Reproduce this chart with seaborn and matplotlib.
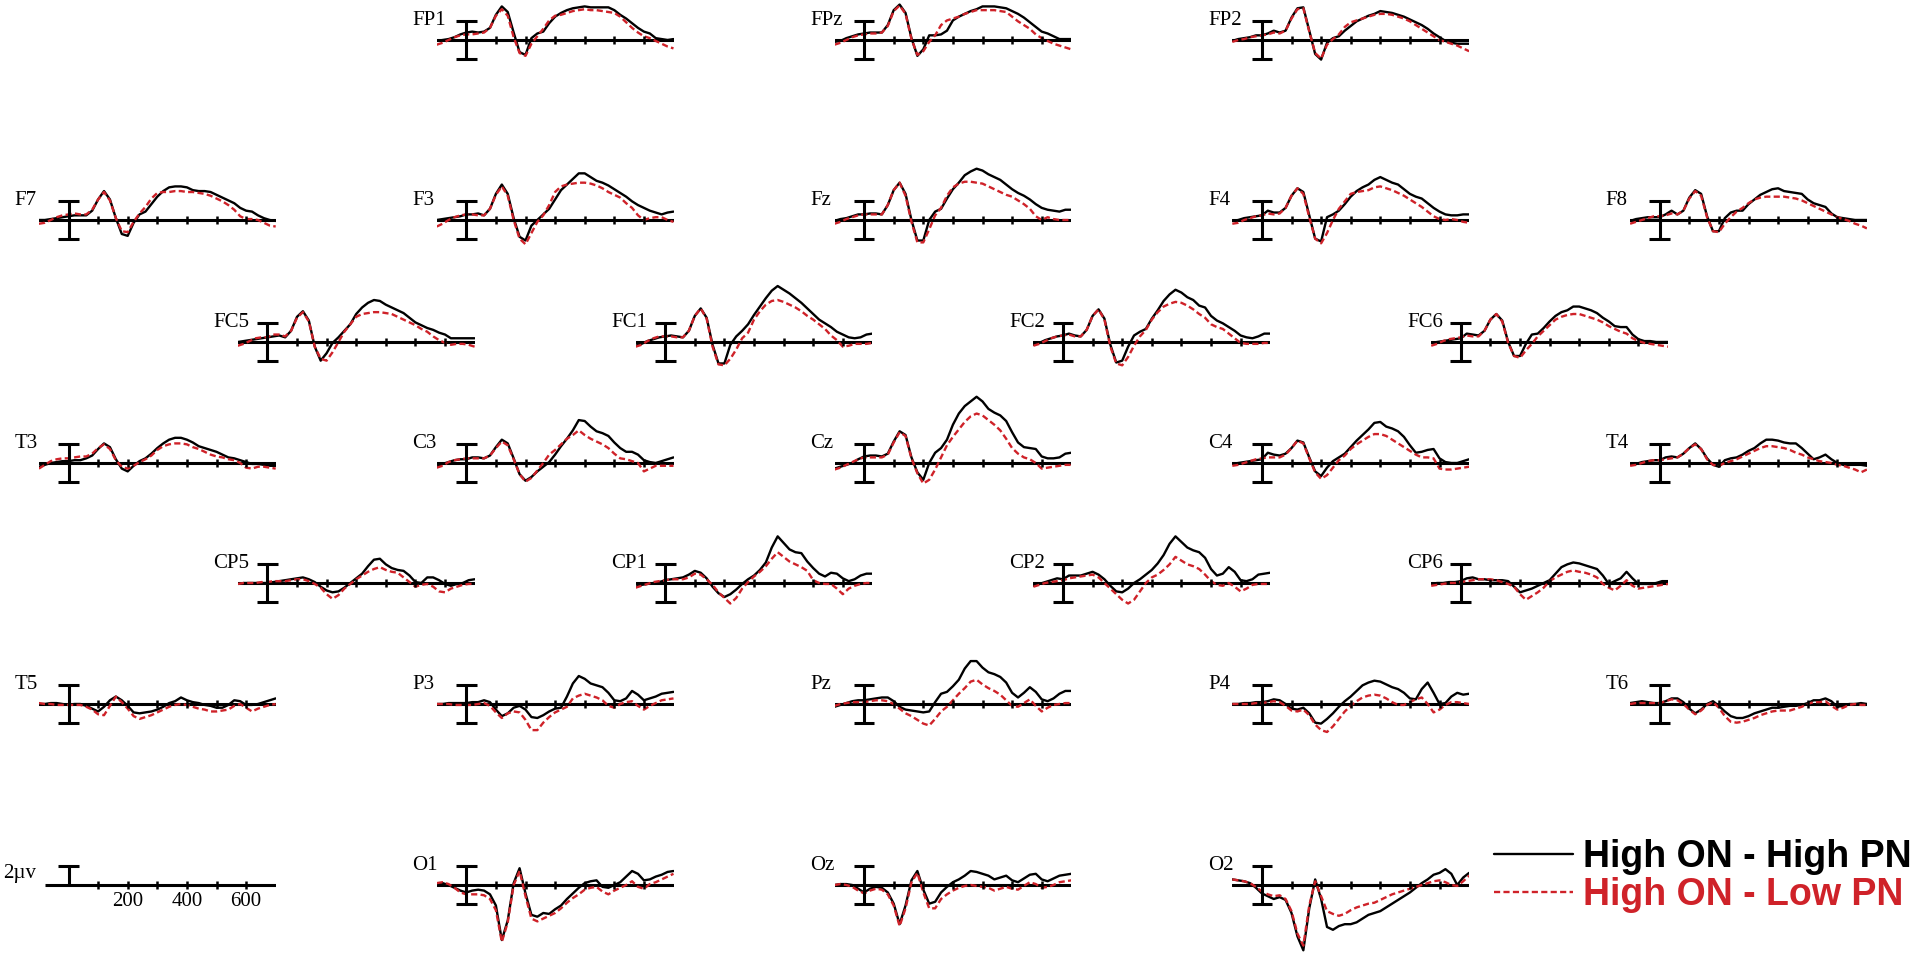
import numpy as np
import pandas as pd
import matplotlib
matplotlib.use("Agg")
import matplotlib.pyplot as plt
import seaborn as sns

# %% data: grand-average ERPs (uV), sampled every 20 ms from -100 to 700 ms
times = list(range(-100, 701, 20))
conditions = ["High ON - High PN", "High ON - Low PN"]
tick_times = [100, 200, 300, 400, 500, 600]
scale_labels = ["200", "400", "600"]

FP1_high = [-0.1, 0.0, 0.1, 0.3, 0.6, 0.8, 0.9, 0.8, 0.9, 1.3,
            2.7, 3.6, 3.0, 0.8, -1.3, -1.6, 0.2, 0.7, 0.9, 1.8,
            2.5, 2.9, 3.2, 3.4, 3.5, 3.6, 3.5, 3.5, 3.5, 3.5,
            3.2, 2.7, 2.3, 1.8, 1.3, 0.9, 0.7, 0.2, 0.1, 0.0, 0.1]
FP1_low = [-0.5, -0.3, 0.0, 0.3, 0.5, 0.6, 0.6, 0.7, 0.8, 1.3,
           2.6, 3.3, 2.6, 0.3, -1.4, -1.7, -0.4, 0.4, 1.2, 2.1,
           2.6, 2.7, 2.9, 3.1, 3.2, 3.3, 3.2, 3.2, 3.1, 3.0,
           2.9, 2.5, 1.9, 1.3, 0.8, 0.4, 0.2, -0.1, -0.4, -0.7, -0.9]
FPz_high = [-0.2, -0.1, 0.2, 0.4, 0.6, 0.7, 0.8, 0.8, 0.8, 1.6,
            3.2, 3.8, 2.9, 0.2, -1.7, -1.0, 0.5, 0.5, 0.6, 1.0,
            2.1, 2.5, 2.8, 3.1, 3.3, 3.6, 3.6, 3.6, 3.5, 3.4,
            3.1, 2.8, 2.4, 1.9, 1.4, 0.9, 0.7, 0.4, 0.1, 0.1, 0.1]
FPz_low = [-0.5, -0.3, 0.0, 0.3, 0.5, 0.6, 0.7, 0.7, 0.8, 1.5,
           3.1, 3.7, 2.8, 0.1, -1.6, -1.2, -0.2, 0.5, 1.6, 2.1,
           2.3, 2.5, 2.8, 3.0, 3.2, 3.2, 3.2, 3.2, 3.1, 3.0,
           2.5, 2.0, 1.6, 1.2, 0.6, 0.2, -0.1, -0.4, -0.6, -0.8, -1.0]
FP2_high = [-0.1, 0.1, 0.2, 0.3, 0.5, 0.5, 0.7, 1.0, 0.8, 1.0,
            2.4, 3.4, 3.5, 1.0, -1.5, -2.1, -0.3, 0.2, 0.4, 1.0,
            1.5, 2.0, 2.3, 2.6, 2.8, 3.1, 3.0, 2.9, 2.7, 2.5,
            2.2, 1.9, 1.6, 1.2, 0.7, 0.3, -0.1, -0.3, -0.4, -0.4, -0.4]
FP2_low = [-0.2, 0.0, 0.1, 0.3, 0.4, 0.5, 0.6, 0.8, 0.7, 1.0,
           2.3, 3.3, 3.4, 0.9, -1.4, -2.0, -0.5, 0.1, 0.6, 1.4,
           1.9, 2.1, 2.3, 2.5, 2.7, 2.8, 2.8, 2.7, 2.5, 2.3,
           2.0, 1.6, 1.2, 0.8, 0.4, 0.0, -0.2, -0.4, -0.6, -0.9, -1.2]

F7_high = [0.0, 0.0, 0.1, 0.2, 0.3, 0.4, 0.5, 0.5, 0.5, 1.0,
           2.2, 3.1, 2.2, 0.2, -1.5, -1.7, -0.3, 0.6, 0.9, 1.7,
           2.5, 3.1, 3.5, 3.6, 3.6, 3.5, 3.2, 3.1, 3.1, 3.0,
           2.7, 2.4, 2.1, 1.8, 1.3, 1.0, 0.9, 0.5, 0.2, 0.0, -0.1]
F7_low = [-0.4, -0.3, 0.0, 0.3, 0.5, 0.6, 0.7, 0.6, 0.6, 1.1,
          2.2, 3.0, 2.1, 0.2, -1.2, -1.3, -0.2, 0.7, 1.4, 2.3,
          2.9, 3.0, 3.0, 3.1, 3.1, 3.0, 3.0, 2.9, 2.8, 2.6,
          2.3, 2.0, 1.6, 1.1, 0.4, 0.1, 0.1, 0.0, -0.3, -0.6, -0.7]
F3_high = [0.0, 0.1, 0.2, 0.3, 0.4, 0.6, 0.6, 0.7, 0.5, 1.2,
           2.8, 3.8, 2.8, 0.2, -1.8, -2.2, -0.6, 0.0, 0.6, 1.2,
           2.2, 3.2, 3.8, 4.4, 5.0, 5.0, 4.6, 4.2, 4.0, 3.7,
           3.3, 2.9, 2.5, 2.0, 1.6, 1.3, 1.0, 0.8, 0.6, 0.8, 0.9]
F3_low = [-0.7, -0.4, 0.0, 0.3, 0.5, 0.6, 0.6, 0.5, 0.5, 1.2,
          2.7, 3.6, 2.6, 0.0, -2.0, -2.6, -1.4, -0.2, 0.5, 1.6,
          3.0, 3.6, 3.8, 3.9, 4.0, 4.0, 3.9, 3.7, 3.4, 3.0,
          2.7, 2.4, 1.8, 1.3, 0.5, 0.0, 0.2, 0.3, 0.3, 0.0, -0.2]
Fz_high = [-0.1, 0.1, 0.2, 0.4, 0.6, 0.6, 0.7, 0.7, 0.6, 1.6,
           3.2, 4.0, 2.8, 0.0, -2.2, -2.2, 0.0, 0.9, 1.2, 2.3,
           3.3, 4.0, 4.8, 5.2, 5.5, 5.3, 4.9, 4.6, 4.3, 3.8,
           3.3, 2.9, 2.6, 2.2, 1.7, 1.3, 1.1, 1.0, 0.9, 1.1, 1.1]
Fz_low = [-0.4, -0.2, 0.1, 0.3, 0.5, 0.6, 0.6, 0.6, 0.6, 1.6,
          3.2, 4.0, 2.6, -0.2, -2.4, -2.4, -1.0, 0.5, 1.3, 2.6,
          3.5, 3.9, 4.1, 4.1, 4.0, 3.9, 3.6, 3.3, 3.0, 2.7,
          2.5, 2.1, 1.7, 1.2, 0.4, 0.0, 0.3, 0.1, 0.0, 0.0, 0.0]
F4_high = [-0.1, 0.0, 0.2, 0.3, 0.4, 0.5, 1.0, 0.8, 0.8, 1.3,
           2.6, 3.4, 3.0, 0.5, -2.0, -2.3, 0.3, 0.6, 1.0, 1.7,
           2.5, 3.1, 3.5, 3.8, 4.3, 4.6, 4.3, 4.0, 3.8, 3.3,
           2.8, 2.5, 2.3, 1.8, 1.3, 0.9, 0.6, 0.5, 0.5, 0.6, 0.6]
F4_low = [-0.4, -0.3, 0.0, 0.2, 0.4, 0.5, 0.7, 0.6, 0.7, 1.3,
          2.6, 3.4, 2.8, 0.3, -2.0, -2.5, -1.4, 0.0, 1.2, 2.0,
          2.8, 3.0, 3.1, 3.2, 3.5, 3.6, 3.4, 3.2, 2.9, 2.6,
          2.2, 1.8, 1.4, 0.9, 0.4, 0.1, 0.0, 0.1, 0.0, -0.2, -0.3]
F8_high = [-0.1, 0.1, 0.2, 0.3, 0.3, 0.3, 0.6, 1.0, 0.6, 1.0,
           2.4, 3.2, 2.8, 0.4, -1.2, -1.2, 0.2, 0.8, 1.0, 1.0,
           1.7, 2.2, 2.7, 3.0, 3.3, 3.4, 3.1, 3.0, 2.9, 2.8,
           2.2, 1.8, 1.6, 1.4, 0.7, 0.3, 0.2, 0.1, 0.0, 0.0, 0.0]
F8_low = [-0.4, -0.2, 0.0, 0.2, 0.4, 0.4, 0.5, 0.7, 0.6, 1.0,
          2.3, 3.1, 2.6, 0.3, -1.2, -1.3, -0.4, 0.3, 0.9, 1.3,
          1.8, 2.2, 2.4, 2.5, 2.5, 2.5, 2.5, 2.4, 2.3, 2.1,
          1.8, 1.5, 1.2, 0.9, 0.6, 0.3, 0.1, -0.1, -0.4, -0.6, -0.9]

FC5_high = [0.0, 0.1, 0.2, 0.3, 0.4, 0.5, 0.6, 0.7, 0.5, 1.2,
            2.7, 3.3, 2.3, -0.5, -2.0, -1.2, -0.1, 0.5, 1.2, 1.9,
            3.0, 3.7, 4.2, 4.5, 4.4, 4.0, 3.7, 3.4, 3.1, 2.6,
            2.1, 1.8, 1.5, 1.3, 1.0, 0.8, 0.4, 0.4, 0.4, 0.4, 0.4]
FC5_low = [-0.4, -0.2, 0.1, 0.4, 0.5, 0.5, 0.8, 0.8, 0.6, 1.2,
           2.6, 3.2, 2.2, -0.5, -1.8, -2.0, -1.1, 0.0, 1.1, 1.9,
           2.7, 3.0, 3.1, 3.2, 3.2, 3.1, 3.0, 2.7, 2.4, 2.1,
           1.8, 1.4, 1.1, 0.6, 0.2, -0.1, -0.3, -0.2, -0.2, -0.3, -0.5]
FC1_high = [-0.4, -0.2, 0.1, 0.3, 0.5, 0.6, 0.7, 0.6, 0.5, 1.2,
            2.8, 3.6, 2.6, -0.3, -2.3, -2.3, -0.3, 0.6, 1.2, 1.9,
            2.9, 3.8, 4.7, 5.5, 6.0, 5.6, 5.2, 4.7, 4.2, 3.6,
            3.0, 2.4, 2.0, 1.6, 1.1, 0.8, 0.5, 0.4, 0.5, 0.8, 0.9]
FC1_low = [-0.5, -0.3, 0.1, 0.4, 0.6, 0.6, 0.6, 0.5, 0.5, 1.2,
           2.8, 3.6, 2.5, -0.5, -2.4, -2.5, -1.8, -0.8, 0.4, 1.0,
           2.4, 3.3, 4.0, 4.4, 4.5, 4.3, 4.0, 3.7, 3.3, 2.8,
           2.4, 1.9, 1.4, 0.7, 0.2, -0.5, -0.4, -0.2, -0.2, -0.2, -0.1]
FC2_high = [-0.3, -0.1, 0.2, 0.4, 0.6, 0.7, 0.9, 0.7, 0.6, 1.3,
            2.8, 3.5, 2.5, -0.3, -2.2, -2.0, -0.5, 0.7, 1.1, 1.4,
            2.5, 3.4, 4.4, 5.1, 5.6, 5.3, 4.8, 4.5, 3.9, 3.7,
            2.8, 2.3, 2.0, 1.6, 1.2, 0.7, 0.5, 0.4, 0.6, 0.9, 0.9]
FC2_low = [-0.4, -0.2, 0.1, 0.4, 0.6, 0.7, 0.8, 0.6, 0.6, 1.3,
           2.8, 3.5, 2.4, -0.5, -2.3, -2.5, -1.6, -0.4, 0.6, 1.3,
           2.4, 3.2, 3.8, 4.1, 4.3, 4.2, 3.9, 3.5, 3.0, 2.6,
           1.9, 1.6, 1.4, 0.9, 0.4, -0.1, -0.2, -0.2, -0.2, -0.1, -0.1]
FC6_high = [-0.1, 0.0, 0.1, 0.2, 0.3, 0.4, 0.9, 0.8, 0.7, 1.2,
            2.4, 3.0, 2.3, 0.0, -1.5, -1.5, -0.2, 0.8, 0.9, 1.5,
            2.2, 2.8, 3.2, 3.4, 3.8, 3.8, 3.6, 3.4, 3.1, 2.6,
            2.2, 1.7, 1.6, 1.6, 0.8, 0.3, 0.1, 0.1, 0.0, 0.0, 0.0]
FC6_low = [-0.4, -0.2, 0.1, 0.3, 0.4, 0.5, 0.7, 0.6, 0.6, 1.2,
           2.4, 3.0, 2.2, -0.1, -1.5, -1.7, -0.9, -0.2, 0.6, 1.2,
           1.8, 2.4, 2.7, 2.9, 3.0, 3.0, 2.8, 2.6, 2.4, 2.1,
           1.7, 1.4, 1.1, 0.9, 0.4, 0.1, -0.1, -0.2, -0.3, -0.4, -0.5]

T3_high = [-0.4, -0.2, 0.0, 0.1, 0.2, 0.2, 0.3, 0.3, 0.5, 0.8,
           1.5, 2.1, 1.7, 0.4, -0.6, -0.9, -0.3, 0.2, 0.5, 1.0,
           1.6, 2.1, 2.5, 2.7, 2.7, 2.5, 2.2, 1.8, 1.6, 1.4,
           1.2, 0.9, 0.6, 0.5, 0.3, 0.1, -0.1, -0.1, -0.2, -0.3, -0.3]
T3_low = [-0.6, -0.2, 0.2, 0.4, 0.5, 0.5, 0.6, 0.7, 0.7, 1.0,
          1.6, 2.0, 1.5, 0.3, -0.4, -0.6, -0.3, 0.1, 0.4, 0.8,
          1.4, 1.8, 2.0, 2.1, 2.1, 2.0, 1.7, 1.5, 1.2, 0.9,
          0.7, 0.6, 0.4, 0.3, 0.0, -0.5, -0.6, -0.4, -0.4, -0.5, -0.6]
C3_high = [-0.4, -0.1, 0.1, 0.3, 0.4, 0.4, 0.6, 0.6, 0.5, 0.8,
           1.7, 2.5, 2.1, 0.5, -1.2, -1.9, -1.5, -0.9, -0.4, 0.1,
           0.9, 1.8, 2.6, 3.5, 4.6, 4.5, 3.9, 3.4, 3.2, 2.9,
           2.2, 1.6, 1.2, 1.2, 0.9, 0.3, 0.1, 0.0, 0.2, 0.4, 0.6]
C3_low = [-0.5, -0.3, 0.1, 0.3, 0.4, 0.5, 0.5, 0.5, 0.5, 0.8,
          1.6, 2.3, 1.9, 0.4, -1.2, -2.0, -1.6, -0.8, 0.0, 0.9,
          1.4, 2.0, 2.6, 3.0, 3.5, 3.0, 2.6, 2.3, 2.0, 1.6,
          1.0, 0.5, 0.4, 0.2, 0.0, -0.9, -0.6, -0.3, -0.3, -0.3, -0.3]
Cz_high = [-0.6, -0.4, -0.2, 0.0, 0.4, 0.7, 0.8, 0.8, 0.7, 1.0,
           2.3, 3.4, 3.0, 0.6, -1.0, -1.8, 0.0, 1.1, 1.6, 2.5,
           4.1, 5.3, 6.1, 6.6, 7.1, 6.6, 5.8, 5.4, 5.1, 4.5,
           3.3, 2.2, 1.7, 1.6, 1.5, 0.7, 0.5, 0.5, 0.6, 1.0, 1.1]
Cz_low = [-0.7, -0.5, -0.2, 0.1, 0.4, 0.6, 0.6, 0.6, 0.6, 0.9,
          2.2, 3.3, 2.9, 0.5, -1.1, -2.2, -1.8, -0.7, 0.6, 1.9,
          2.8, 3.6, 4.4, 5.0, 5.3, 5.1, 4.6, 4.1, 3.5, 2.6,
          1.6, 1.0, 0.6, 0.4, 0.0, -0.6, -0.5, -0.4, -0.3, -0.2, -0.2]
C4_high = [-0.1, 0.0, 0.1, 0.2, 0.3, 0.4, 1.1, 0.9, 0.8, 1.0,
           1.6, 2.4, 2.2, 0.6, -0.9, -1.4, -0.5, 0.2, 0.6, 1.0,
           1.7, 2.4, 3.0, 3.6, 4.3, 4.4, 3.9, 3.7, 3.4, 2.8,
           1.9, 1.1, 1.2, 1.4, 1.5, 0.5, 0.1, 0.0, 0.0, 0.2, 0.4]
C4_low = [-0.3, -0.2, 0.0, 0.2, 0.4, 0.5, 0.6, 0.6, 0.6, 0.9,
          1.6, 2.4, 2.1, 0.5, -1.0, -1.7, -1.3, -0.5, 0.3, 0.8,
          1.5, 2.0, 2.4, 2.8, 3.1, 3.1, 2.9, 2.5, 2.1, 1.7,
          1.3, 0.9, 0.6, 0.6, 0.5, -0.6, -0.7, -0.7, -0.6, -0.5, -0.4]
T4_high = [-0.2, -0.1, 0.1, 0.2, 0.3, 0.3, 0.6, 0.7, 0.6, 1.0,
           1.6, 2.1, 1.5, 0.5, -0.2, -0.4, 0.3, 0.5, 0.6, 0.9,
           1.3, 1.6, 2.1, 2.5, 2.5, 2.4, 2.2, 2.1, 2.1, 1.6,
           1.0, 0.4, 0.6, 0.9, 0.4, 0.0, -0.2, -0.2, -0.2, -0.2, -0.3]
T4_low = [-0.3, -0.2, 0.0, 0.2, 0.3, 0.3, 0.4, 0.5, 0.6, 1.0,
          1.6, 2.0, 1.5, 0.4, -0.2, -0.3, 0.0, 0.2, 0.4, 0.7,
          1.0, 1.3, 1.6, 1.8, 1.8, 1.7, 1.6, 1.4, 1.1, 0.9,
          0.6, 0.4, 0.2, 0.1, 0.0, -0.2, -0.3, -0.5, -0.7, -1.0, -0.7]

CP5_high = [-0.1, 0.0, 0.0, 0.0, 0.0, 0.0, 0.1, 0.2, 0.3, 0.4,
            0.5, 0.6, 0.4, 0.1, -0.4, -0.8, -1.0, -0.9, -0.5, 0.0,
            0.5, 1.0, 1.8, 2.5, 2.6, 2.0, 1.6, 1.4, 1.3, 0.8,
            0.1, 0.0, 0.6, 0.6, 0.3, -0.1, -0.3, -0.1, 0.0, 0.3, 0.4]
CP5_low = [-0.1, 0.0, 0.0, 0.0, 0.1, 0.1, 0.2, 0.2, 0.2, 0.3,
           0.4, 0.4, 0.2, -0.1, -0.5, -1.2, -1.7, -1.3, -0.6, -0.1,
           0.4, 0.8, 1.2, 1.5, 1.7, 1.4, 1.2, 1.1, 0.6, 0.1,
           -0.4, -0.2, -0.1, -0.4, -0.9, -1.0, -0.6, -0.4, -0.2, -0.1, -0.1]
CP1_high = [-0.4, -0.2, -0.1, 0.0, 0.1, 0.3, 0.4, 0.5, 0.6, 0.9,
            1.3, 1.1, 0.5, -0.4, -1.1, -1.5, -1.2, -0.7, -0.1, 0.4,
            0.8, 1.4, 2.2, 3.8, 5.0, 4.3, 3.6, 3.3, 3.2, 2.3,
            1.6, 1.0, 0.7, 1.1, 1.0, 0.5, 0.2, 0.4, 0.8, 1.0, 1.0]
CP1_low = [-0.5, -0.3, -0.1, 0.1, 0.2, 0.3, 0.4, 0.4, 0.4, 0.6,
           1.0, 0.9, 0.4, -0.2, -1.0, -1.6, -2.2, -1.6, -0.6, 0.1,
           0.7, 1.2, 1.8, 2.6, 3.3, 2.8, 2.3, 2.0, 1.7, 1.3,
           0.3, 0.0, -0.1, -0.1, -0.6, -1.2, -0.6, -0.3, -0.1, 0.0, 0.0]
CP2_high = [-0.3, -0.1, 0.1, 0.3, 0.5, 0.4, 0.8, 0.8, 0.8, 1.0,
            1.2, 0.9, 0.4, -0.3, -0.9, -1.0, -0.6, 0.0, 0.4, 0.9,
            1.4, 2.1, 3.0, 4.2, 5.0, 4.4, 3.8, 3.5, 3.3, 2.7,
            1.5, 0.8, 1.0, 1.7, 1.2, 0.3, 0.2, 0.4, 0.9, 1.0, 1.1]
CP2_low = [-0.4, -0.2, 0.0, 0.1, 0.2, 0.3, 0.5, 0.6, 0.7, 0.8,
           0.9, 0.6, 0.0, -0.6, -1.2, -1.8, -2.2, -1.8, -0.9, 0.0,
           0.6, 0.9, 1.4, 2.0, 2.8, 2.4, 2.0, 1.8, 1.5, 0.9,
           0.2, -0.2, -0.3, 0.0, -0.4, -0.9, -0.6, -0.2, -0.1, -0.1, -0.1]
CP6_high = [-0.1, 0.0, 0.0, 0.1, 0.1, 0.2, 0.5, 0.6, 0.4, 0.4,
            0.3, 0.3, 0.3, 0.2, -0.4, -1.0, -0.8, -0.6, -0.3, 0.0,
            0.3, 1.0, 1.7, 2.0, 2.2, 2.1, 1.9, 1.7, 1.5, 0.8,
            -0.1, 0.2, 0.5, 1.2, 0.5, -0.1, -0.1, -0.1, 0.0, 0.2, 0.2]
CP6_low = [-0.3, -0.2, -0.1, 0.0, 0.0, 0.1, 0.2, 0.3, 0.4, 0.4,
           0.4, 0.3, 0.1, -0.1, -0.4, -1.2, -1.8, -1.4, -1.0, -0.5,
           0.2, 0.6, 0.9, 1.2, 1.35, 1.2, 1.1, 0.9, 0.6, -0.1,
           -0.5, -0.8, -0.3, 0.3, -0.3, -0.6, -0.5, -0.4, -0.3, -0.2, -0.1]

T5_high = [0.0, 0.0, 0.1, 0.1, 0.0, -0.1, 0.0, 0.0, -0.2, -0.5,
           -0.8, -0.3, 0.4, 0.8, 0.4, -0.2, -0.9, -1.0, -0.9, -0.8,
           -0.6, -0.3, 0.1, 0.3, 0.7, 0.4, 0.2, 0.1, -0.1, -0.2,
           -0.4, -0.4, -0.1, 0.4, 0.3, -0.1, -0.1, 0.0, 0.2, 0.4, 0.6]
T5_low = [0.1, 0.0, 0.0, -0.1, -0.1, -0.1, -0.1, -0.1, -0.3, -0.6,
          -1.1, -1.2, -0.2, 0.8, 0.2, -0.5, -1.3, -1.6, -1.4, -1.2,
          -0.9, -0.6, -0.3, -0.1, 0.0, -0.1, -0.3, -0.5, -0.6, -0.8,
          -0.8, -0.7, -0.6, -0.2, 0.0, -0.4, -0.8, -0.5, -0.3, -0.1, 0.0]
P3_high = [0.0, 0.0, 0.1, 0.1, 0.1, 0.1, 0.2, 0.2, 0.4, 0.2,
           -0.6, -1.3, -1.0, -0.4, -0.2, -0.6, -1.4, -1.5, -1.2, -0.8,
           -0.5, -0.4, 0.8, 2.2, 3.0, 2.7, 2.2, 2.0, 1.8, 1.2,
           0.4, 0.3, 0.6, 1.4, 1.0, 0.4, 0.6, 0.8, 1.1, 1.2, 1.3]
P3_low = [0.0, 0.0, 0.0, -0.1, -0.1, -0.1, -0.1, 0.0, 0.1, -0.2,
          -0.9, -1.5, -1.0, -0.8, -0.9, -1.7, -2.8, -2.8, -2.0, -1.4,
          -0.9, -0.6, -0.3, 0.6, 0.9, 1.1, 0.9, 0.7, 0.4, -0.2,
          -0.4, 0.0, 0.2, 0.3, -0.2, -0.6, -0.2, 0.1, 0.4, 0.5, 0.6]
Pz_high = [-0.3, -0.1, 0.1, 0.3, 0.4, 0.4, 0.5, 0.6, 0.7, 0.7,
           0.3, -0.3, -0.6, -0.7, -0.8, -0.9, -0.8, 0.2, 1.1, 1.3,
           1.9, 2.6, 3.8, 4.6, 4.6, 3.9, 3.4, 3.2, 2.9, 2.3,
           1.2, 0.7, 1.2, 1.8, 1.3, 0.5, 0.3, 0.6, 1.1, 1.4, 1.4]
Pz_low = [-0.2, 0.0, 0.1, 0.2, 0.2, 0.2, 0.3, 0.4, 0.4, 0.3,
          0.0, -0.5, -1.0, -1.3, -1.7, -2.1, -2.3, -1.6, -0.8, -0.3,
          0.4, 1.1, 1.7, 2.4, 2.6, 2.1, 1.7, 1.4, 1.0, 0.4,
          -0.2, -0.3, 0.1, 0.5, -0.2, -0.8, -0.4, -0.1, 0.0, 0.1, 0.1]
P4_high = [0.0, 0.0, 0.1, 0.1, 0.2, 0.2, 0.3, 0.5, 0.4, 0.0,
           -0.5, -0.6, -0.4, -1.0, -2.0, -2.1, -1.6, -1.0, -0.3, 0.3,
           0.8, 1.4, 2.0, 2.3, 2.5, 2.4, 2.1, 1.8, 1.6, 1.2,
           0.6, 0.5, 1.6, 2.3, 1.2, 0.0, 0.1, 0.8, 1.2, 1.0, 1.1]
P4_low = [0.0, 0.0, 0.0, 0.0, 0.1, 0.1, 0.2, 0.3, 0.2, -0.2,
          -0.7, -0.8, -0.6, -1.2, -2.2, -2.8, -3.0, -2.4, -1.6, -0.8,
          -0.2, 0.3, 0.7, 0.9, 1.0, 0.9, 0.6, 0.2, -0.1, -0.1,
          0.2, 0.5, 0.7, 0.0, -0.9, -0.6, -0.1, 0.2, 0.2, 0.1, 0.0]
T6_high = [0.1, 0.2, 0.3, 0.2, 0.1, 0.1, 0.3, 0.6, 0.6, 0.2,
           -0.5, -1.0, -0.6, 0.0, 0.3, -0.2, -0.8, -1.3, -1.5, -1.5,
           -1.3, -1.0, -0.8, -0.6, -0.4, -0.4, -0.3, -0.2, -0.2, -0.1,
           0.1, 0.4, 0.4, 0.6, 0.3, -0.3, -0.2, 0.0, 0.0, 0.1, 0.0]
T6_low = [0.0, 0.1, 0.1, 0.1, 0.1, 0.1, 0.3, 0.5, 0.4, 0.0,
          -0.6, -1.1, -0.7, -0.1, 0.2, -0.4, -1.3, -1.9, -2.0, -1.9,
          -1.7, -1.5, -1.2, -1.0, -0.8, -0.7, -0.7, -0.7, -0.5, -0.3,
          0.0, 0.2, 0.2, 0.3, -0.2, -0.6, -0.4, -0.1, 0.0, -0.1, -0.1]

O1_high = [0.1, 0.2, 0.0, -0.3, -0.6, -0.8, -0.6, -0.5, -0.6, -1.0,
           -2.2, -5.9, -3.8, 0.2, 1.8, -0.9, -3.2, -3.4, -3.0, -3.1,
           -2.6, -2.2, -1.5, -0.9, -0.3, 0.2, 0.4, 0.5, -0.2, -0.3,
           0.0, 0.3, 0.9, 1.5, 1.2, 0.5, 0.6, 0.9, 1.1, 1.4, 1.5]
O1_low = [0.2, 0.3, 0.1, -0.3, -0.8, -1.0, -1.0, -1.0, -1.1, -1.5,
          -2.7, -6.1, -4.0, 0.0, 1.5, -1.2, -3.6, -3.9, -3.6, -3.3,
          -3.0, -2.5, -1.9, -1.4, -1.0, -0.5, -0.3, -0.2, -0.7, -1.0,
          -0.6, -0.3, 0.0, 0.4, -0.2, -0.4, 0.1, 0.3, 0.6, 0.9, 1.2]
Oz_high = [0.0, 0.1, 0.1, 0.0, -0.4, -0.8, -0.4, -0.2, -0.3, -0.8,
           -2.0, -4.2, -2.2, 0.5, 1.5, -0.5, -2.0, -1.8, -0.8, -0.2,
           0.3, 0.6, 1.0, 1.5, 1.4, 1.2, 1.0, 0.6, 0.8, 1.0,
           0.5, 0.3, 0.7, 1.1, 1.2, 0.6, 0.4, 0.7, 1.0, 1.1, 1.2]
Oz_low = [0.0, 0.1, 0.0, -0.2, -0.6, -0.9, -0.6, -0.4, -0.5, -1.0,
          -2.2, -4.4, -2.5, 0.3, 1.3, -0.8, -2.5, -2.5, -1.5, -1.0,
          -0.6, -0.3, -0.1, 0.0, -0.1, -0.2, -0.3, -0.6, -0.4, -0.2,
          -0.4, -0.5, -0.1, 0.3, 0.1, -0.3, -0.2, 0.0, 0.3, 0.4, 0.5]
O2_high = [0.6, 0.5, 0.4, 0.2, -0.3, -0.9, -1.2, -1.5, -1.3, -1.6,
           -3.0, -5.5, -7.0, -2.5, 0.6, -1.5, -4.5, -4.8, -4.4, -4.2,
           -4.2, -4.0, -3.6, -3.2, -3.0, -2.8, -2.4, -2.0, -1.6, -1.2,
           -0.8, -0.3, 0.2, 0.6, 1.1, 1.3, 1.7, 1.2, 0.0, 0.8, 1.3]
O2_low = [0.6, 0.5, 0.4, 0.2, -0.2, -0.7, -1.0, -1.2, -1.1, -1.5,
          -2.8, -5.2, -6.5, -2.2, 0.4, -1.2, -2.8, -3.1, -3.3, -3.1,
          -2.7, -2.4, -2.2, -2.0, -1.9, -1.6, -1.3, -1.0, -0.8, -0.6,
          -0.4, -0.2, 0.0, 0.2, 0.4, 0.5, 0.3, 0.0, -0.1, 0.4, 1.0]

erp = {
    "FP1": (FP1_high, FP1_low), "FPz": (FPz_high, FPz_low), "FP2": (FP2_high, FP2_low),
    "F7": (F7_high, F7_low), "F3": (F3_high, F3_low), "Fz": (Fz_high, Fz_low),
    "F4": (F4_high, F4_low), "F8": (F8_high, F8_low),
    "FC5": (FC5_high, FC5_low), "FC1": (FC1_high, FC1_low),
    "FC2": (FC2_high, FC2_low), "FC6": (FC6_high, FC6_low),
    "T3": (T3_high, T3_low), "C3": (C3_high, C3_low), "Cz": (Cz_high, Cz_low),
    "C4": (C4_high, C4_low), "T4": (T4_high, T4_low),
    "CP5": (CP5_high, CP5_low), "CP1": (CP1_high, CP1_low),
    "CP2": (CP2_high, CP2_low), "CP6": (CP6_high, CP6_low),
    "T5": (T5_high, T5_low), "P3": (P3_high, P3_low), "Pz": (Pz_high, Pz_low),
    "P4": (P4_high, P4_low), "T6": (T6_high, T6_low),
    "O1": (O1_high, O1_low), "Oz": (Oz_high, Oz_low), "O2": (O2_high, O2_low),
}

rows = []
for name, pair in erp.items():
    for cond, series in zip(conditions, pair):
        assert len(series) == len(times), name
        for t, v in zip(times, series):
            rows.append((name, cond, t, v))
df = pd.DataFrame(rows, columns=["electrode", "condition", "time", "uv"])

# %% layout: electrode -> (row, column) on a 9 column montage grid
layout = {
    "FP1": (0, 2), "FPz": (0, 4), "FP2": (0, 6),
    "F7": (1, 0), "F3": (1, 2), "Fz": (1, 4), "F4": (1, 6), "F8": (1, 8),
    "FC5": (2, 1), "FC1": (2, 3), "FC2": (2, 5), "FC6": (2, 7),
    "T3": (3, 0), "C3": (3, 2), "Cz": (3, 4), "C4": (3, 6), "T4": (3, 8),
    "CP5": (4, 1), "CP1": (4, 3), "CP2": (4, 5), "CP6": (4, 7),
    "T5": (5, 0), "P3": (5, 2), "Pz": (5, 4), "P4": (5, 6), "T6": (5, 8),
    "O1": (6, 2), "Oz": (6, 4), "O2": (6, 6),
}
row_y = [40, 220, 342, 463, 583, 704, 885]  # baseline, px from top
W, H = 1920, 960
PX_MS, PX_UV, YLIM = 0.296, 9.33, 8

red = "#cf2229"
palette = {conditions[0]: "black", conditions[1]: red}
dashes = {conditions[0]: "", conditions[1]: (2.6, 1.4)}

sns.set_theme(style="white")
plt.rcParams["font.family"] = ["Liberation Serif", "DejaVu Serif"]

fig = plt.figure(figsize=(19.2, 9.6), dpi=100)


def make_panel(row, col):
    bar_x = 68.5 + 198.9 * col
    left = (bar_x - 100 * PX_MS) / W
    bottom = 1 - (row_y[row] + YLIM * PX_UV) / H
    ax = fig.add_axes([left, bottom, 800 * PX_MS / W, 2 * YLIM * PX_UV / H])
    return ax


def finish(ax):
    ax.set_xlim(-100, 700)
    ax.set_ylim(-YLIM, YLIM)
    ax.axis("off")


for name, (row, col) in layout.items():
    ax = make_panel(row, col)
    sns.lineplot(
        data=df[df.electrode == name], x="time", y="uv",
        hue="condition", style="condition",
        hue_order=conditions, style_order=conditions,
        palette=palette, dashes=dashes, linewidth=1.7,
        errorbar=None, legend=False, ax=ax,
    )
    ax.axhline(0, color="black", lw=2.2, zorder=1)
    ax.vlines(tick_times, -0.45, 0.45, color="black", lw=1.8)
    ax.vlines(0, -2, 2, color="black", lw=2.2)
    ax.hlines([-2, 2], -35, 35, color="black", lw=2.2)
    ax.text(-182, 2.1, name, ha="left", va="center", fontsize=15, color="black")
    finish(ax)

# scale panel
ax = make_panel(6, 0)
ax.hlines(0, -80, 700, color="black", lw=2.2)
ax.vlines(tick_times, -0.45, 0.45, color="black", lw=1.8)
ax.vlines(0, 0, 2, color="black", lw=2.2)
ax.hlines(2, -35, 35, color="black", lw=2.2)
for lab in scale_labels:
    ax.text(int(lab), -1.8, lab, ha="center", va="center", fontsize=15, color="black")
ax.text(-222, 1.2, "2µv", ha="left", va="center", fontsize=15, color="black")
finish(ax)

# legend
handles = [
    plt.Line2D([], [], color="black", lw=1.7),
    plt.Line2D([], [], color=red, lw=1.7, dashes=dashes[conditions[1]]),
]
leg = fig.legend(
    handles, conditions, loc="upper left",
    bbox_to_anchor=(1494 / W, 1 - 839 / H),
    frameon=False, borderpad=0, borderaxespad=0,
    handlelength=2.1, handletextpad=0.28, labelspacing=0.05,
    prop={"family": "Liberation Sans", "weight": "bold", "size": 27},
)
leg.get_texts()[0].set_color("black")
leg.get_texts()[1].set_color(red)

fig.savefig("out.png", dpi=100, facecolor="white")
